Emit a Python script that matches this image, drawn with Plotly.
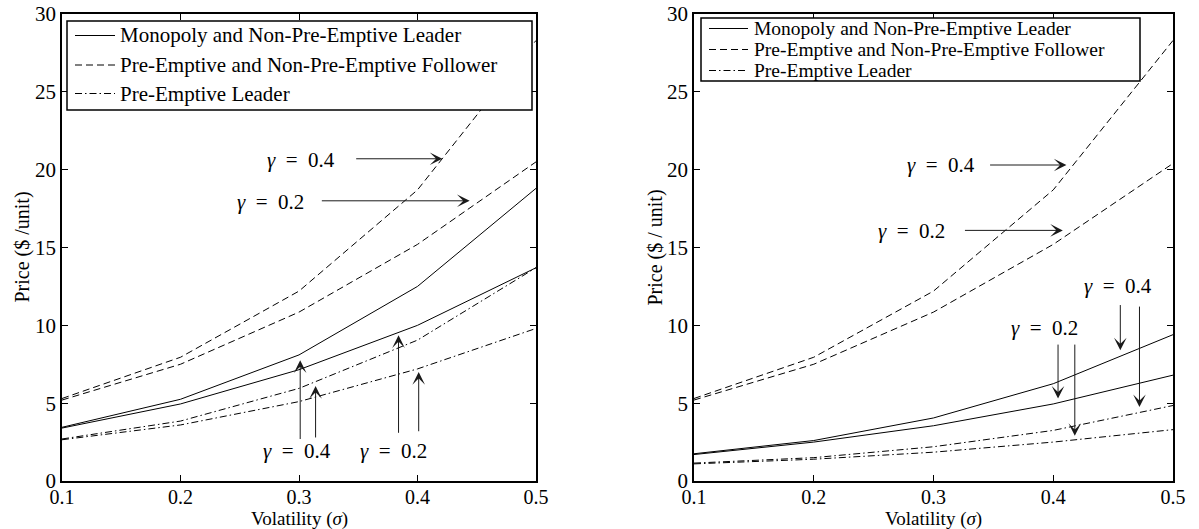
import plotly.graph_objects as go

# ---------------- data ----------------
sigma = [0.1, 0.2, 0.3, 0.4, 0.5]

# Left panel
left_mono_g04 = [3.45, 5.25, 8.1, 12.5, 18.8]
left_mono_g02 = [3.4, 4.95, 7.15, 10.0, 13.7]
left_foll_g04 = [5.3, 7.95, 12.2, 18.7, 28.3]
left_foll_g02 = [5.2, 7.5, 10.85, 15.2, 20.5]
left_pre_g04 = [2.7, 3.85, 5.95, 9.05, 13.7]
left_pre_g02 = [2.65, 3.6, 5.1, 7.2, 9.8]

# Right panel
right_mono_g04 = [1.75, 2.6, 4.05, 6.25, 9.4]
right_mono_g02 = [1.7, 2.5, 3.55, 4.95, 6.8]
right_foll_g04 = [5.3, 7.95, 12.2, 18.7, 28.3]
right_foll_g02 = [5.2, 7.5, 10.85, 15.2, 20.4]
right_pre_g04 = [1.15, 1.5, 2.2, 3.25, 4.85]
right_pre_g02 = [1.1, 1.4, 1.85, 2.5, 3.3]

legend_names = ["Monopoly and Non-Pre-Emptive Leader",
                "Pre-Emptive and Non-Pre-Emptive Follower",
                "Pre-Emptive Leader"]
x_ticks = [0.1, 0.2, 0.3, 0.4, 0.5]
x_ticklabels = ["0.1", "0.2", "0.3", "0.4", "0.5"]
y_ticks = [0, 5, 10, 15, 20, 25, 30]
y_ticklabels = ["0", "5", "10", "15", "20", "25", "30"]

# gamma labels: (panel, text, x, y)
gamma_labels = [
    (1, "0.4", 0.302, 20.6), (1, "0.2", 0.276, 17.95),
    (1, "0.4", 0.298, 1.95), (1, "0.2", 0.380, 1.95),
    (2, "0.4", 0.306, 20.3), (2, "0.2", 0.282, 16.07),
    (2, "0.4", 0.454, 12.55), (2, "0.2", 0.393, 9.8),
]
# arrows: (panel, tail_x, tail_y, head_x, head_y)
arrows = [
    (1, 0.347, 20.7, 0.421, 20.7), (1, 0.318, 18.0, 0.444, 18.0),
    (1, 0.301, 2.6, 0.301, 7.75), (1, 0.314, 2.7, 0.314, 6.1),
    (1, 0.384, 3.0, 0.384, 9.36), (1, 0.401, 3.1, 0.401, 7.0),
    (2, 0.346, 20.3, 0.411, 20.3), (2, 0.325, 16.1, 0.408, 16.1),
    (2, 0.456, 11.4, 0.456, 8.4), (2, 0.472, 11.3, 0.472, 4.75),
    (2, 0.404, 8.86, 0.404, 5.3), (2, 0.418, 8.86, 0.418, 2.9),
]

# ---------------- styles ----------------
W, H = 1199, 529
FONT = "Liberation Serif"
DASH = "7px,4px"
DASHDOT = "7px,3px,1.5px,3px"
styles = ["solid", DASH, DASHDOT]


def px(x):
    return x / W


def py(y):
    return 1 - y / H


fig = go.Figure()

panels = {
    1: [left_mono_g04, left_mono_g02, left_foll_g04, left_foll_g02, left_pre_g04, left_pre_g02],
    2: [right_mono_g04, right_mono_g02, right_foll_g04, right_foll_g02, right_pre_g04, right_pre_g02],
}
for p, series in panels.items():
    xa = "x" if p == 1 else "x2"
    ya = "y" if p == 1 else "y2"
    for i, s in enumerate(series):
        fig.add_trace(go.Scatter(
            x=sigma, y=s, mode="lines", xaxis=xa, yaxis=ya,
            line=dict(color="black", width=1, dash=styles[i // 2]),
            showlegend=False, hoverinfo="skip"))

axis_common = dict(
    showline=True, linecolor="black", linewidth=1.5, mirror="ticks",
    ticks="inside", ticklen=6, tickwidth=1, tickcolor="black",
    showgrid=False, zeroline=False,
)
xdoms = {1: [px(62), px(536)], 2: [px(694), px(1173)]}
ydom = [py(481), py(14)]
ytitles = {1: "Price ($ /unit)", 2: "Price ($ / unit)"}
for p in (1, 2):
    sx = "" if p == 1 else "2"
    fig.update_layout(**{
        "xaxis" + sx: dict(axis_common, domain=xdoms[p], range=[0.1, 0.5],
                           tickvals=x_ticks, ticktext=x_ticklabels,
                           tickfont=dict(family=FONT, size=20, color="black"),
                           ticklabelstandoff=-3,
                           anchor="y" + sx, automargin=False),
        "yaxis" + sx: dict(axis_common, domain=ydom, range=[0, 30],
                           tickvals=y_ticks, ticktext=y_ticklabels,
                           tickfont=dict(family=FONT, size=21, color="black"),
                           anchor="x" + sx, automargin=False),
    })

annotations = []
# axis titles as annotations at fixed positions
for p in (1, 2):
    xc = (xdoms[p][0] + xdoms[p][1]) / 2
    annotations.append(dict(x=xc, y=py(519), xref="paper", yref="paper",
                            text="Volatility (<i>σ</i>)", showarrow=False,
                            xanchor="center", yanchor="middle",
                            font=dict(family=FONT, size=19, color="black")))
    xt = 22 if p == 1 else 655
    annotations.append(dict(x=px(xt), y=(ydom[0] + ydom[1]) / 2, xref="paper", yref="paper",
                            text=ytitles[p], showarrow=False, textangle=-90,
                            xanchor="center", yanchor="middle",
                            font=dict(family=FONT, size=20, color="black")))

for p, t, x, y in gamma_labels:
    sx = "" if p == 1 else "2"
    annotations.append(dict(
        x=x, y=y, xref="x" + sx, yref="y" + sx,
        text="<i>γ</i>\u2002=\u2002" + t,
        showarrow=False, font=dict(family=FONT, size=21, color="black"),
        xanchor="center", yanchor="middle"))
for p, tx, ty, hx, hy in arrows:
    sx = "" if p == 1 else "2"
    annotations.append(dict(
        x=hx, y=hy, ax=tx, ay=ty, xref="x" + sx, yref="y" + sx,
        axref="x" + sx, ayref="y" + sx, text="", showarrow=True,
        arrowhead=3, arrowsize=2.1, arrowwidth=1, arrowcolor="#1a1a1a"))

# manual legends (box, line samples, labels)
shapes = []
legend_boxes = {
    1: dict(x0=67, x1=532, y0=21, y1=110, rows=[35.5, 65, 93.5], lx0=75, lx1=115, tx=118, fs=21),
    2: dict(x0=701, x1=1140, y0=18, y1=81, rows=[28.5, 49.5, 70.5], lx0=709, lx1=748, tx=752, fs=19.5),
}
for p, b in legend_boxes.items():
    shapes.append(dict(type="rect", xref="paper", yref="paper",
                       x0=px(b["x0"]), x1=px(b["x1"]), y0=py(b["y1"]), y1=py(b["y0"]),
                       line=dict(color="black", width=1.5), fillcolor="white", layer="above"))
    for k, ry in enumerate(b["rows"]):
        shapes.append(dict(type="line", xref="paper", yref="paper",
                           x0=px(b["lx0"]), x1=px(b["lx1"]), y0=py(ry), y1=py(ry),
                           line=dict(color="black", width=1, dash=styles[k]), layer="above"))
        annotations.append(dict(x=px(b["tx"]), y=py(ry), xref="paper", yref="paper",
                                text=legend_names[k], showarrow=False,
                                xanchor="left", yanchor="middle",
                                font=dict(family=FONT, size=b["fs"], color="black")))

fig.update_layout(
    width=W, height=H,
    margin=dict(l=0, r=0, t=0, b=0),
    paper_bgcolor="white", plot_bgcolor="white",
    showlegend=False,
    annotations=annotations, shapes=shapes,
    font=dict(family=FONT, color="black"),
)

fig.write_html("out.html", config={"displayModeBar": False},
               post_script="document.body.style.margin='0';document.body.style.overflow='hidden';")
